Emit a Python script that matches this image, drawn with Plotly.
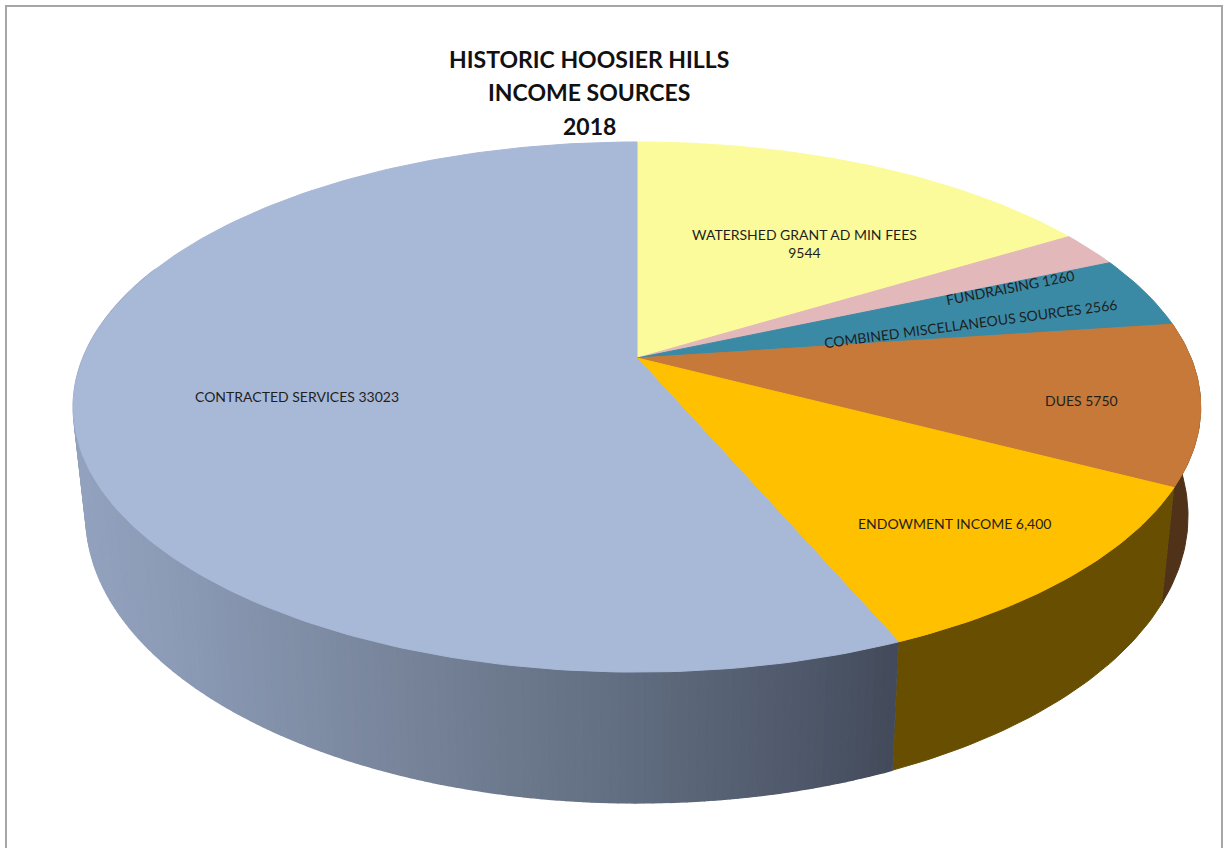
import numpy as np
import plotly.graph_objects as go

# ---- data, clockwise from 12 o'clock ----
categories = ["WATERSHED GRANT AD MIN FEES", "FUNDRAISING", "COMBINED MISCELLANEOUS SOURCES",
              "DUES", "ENDOWMENT INCOME", "CONTRACTED SERVICES"]
values = [9544, 1260, 2566, 5750, 6400, 33023]
labels = ["WATERSHED GRANT AD MIN FEES<br>9544", "FUNDRAISING 1260",
          "COMBINED MISCELLANEOUS SOURCES 2566", "DUES 5750",
          "ENDOWMENT INCOME 6,400", "CONTRACTED SERVICES 33023"]
top_colors = ["#FBFB9B", "#E3B8BB", "#3A8AA5", "#C67938", "#FFC000", "#A8B8D7"]
side_colors = ["#8a8a50", "#7a5f60", "#1f4a58", "#4F3218", "#674E00", None]
title_lines = ["HISTORIC HOOSIER HILLS", "INCOME SOURCES", "2018"]
title_y = [59, 92, 126]
label_x = [804, 1010, 970, 1081, 954, 297]
label_y = [243, 287, 323, 400, 523, 396]
label_angle = [0, -11, -7.5, 0, 0, 0]

# ---- projection of the tilted disc onto page pixels ----
CX, K = 637, 0.185
TOP = dict(r=554, h=256, y0=358)
BOT = dict(r=541.5, h=277, y0=463)


def project(theta, g):
    u, v = np.sin(theta), np.cos(theta)
    w = 1 + K * v
    return CX + g["r"] * u / w, g["y0"] - g["h"] * v / w


def lerp_color(x):
    xs = [90, 200, 400, 600, 800, 895]
    rs = [[0x93, 0xA2, 0xBE], [0x8A, 0x99, 0xB4], [0x78, 0x85, 0x9B],
          [0x64, 0x70, 0x83], [0x4F, 0x59, 0x6B], [0x43, 0x4A, 0x5A]]
    c = [int(np.interp(x, xs, [r[i] for r in rs])) for i in range(3)]
    return f"rgb({c[0]},{c[1]},{c[2]})"


total = sum(values)
edges = 2 * np.pi * np.cumsum([0] + values) / total
fig = go.Figure()


def poly(x, y, color, lw=1):
    fig.add_trace(go.Scatter(x=x, y=y, mode="lines", fill="toself", fillcolor=color,
                             line=dict(color=color, width=lw), hoverinfo="skip", showlegend=False))


# sides: every slice's rim between the top and bottom discs
for i, (a, b) in enumerate(zip(edges[:-1], edges[1:])):
    if side_colors[i] is not None:
        if b < np.pi / 2:
            continue
        t = np.linspace(max(a, np.pi / 3), b, 40)
        xt, yt = project(t, TOP)
        xb, yb = project(t, BOT)
        poly(np.r_[xt, xb[::-1]], np.r_[yt, yb[::-1]], side_colors[i])
    else:
        ts = np.linspace(a, min(b, 1.62 * np.pi), 181)
        for t0, t1 in zip(ts[:-1], ts[1:]):
            t = np.array([t0, t1])
            xt, yt = project(t, TOP)
            xb, yb = project(t, BOT)
            poly(np.r_[xt, xb[::-1]], np.r_[yt, yb[::-1]], lerp_color(xb.mean()), lw=1.5)

# top faces
for i, (a, b) in enumerate(zip(edges[:-1], edges[1:])):
    t = np.linspace(a, b, max(int((b - a) * 60), 8))
    xt, yt = project(t, TOP)
    poly(np.r_[CX, xt, CX], np.r_[TOP["y0"], yt, TOP["y0"]], top_colors[i])

annotations = [
    dict(x=x, y=y, text=s, textangle=ang, showarrow=False, xref="x", yref="y",
         xanchor="center", yanchor="middle", align="center",
         font=dict(family="Lato", size=14, color="#1f1f1f"))
    for s, x, y, ang in zip(labels, label_x, label_y, label_angle)
] + [
    dict(x=589, y=y, text=f"<b>{s}</b>", showarrow=False, xref="x", yref="y",
         xanchor="center", yanchor="middle",
         font=dict(family="Lato", size=23, color="#111111"))
    for s, y in zip(title_lines, title_y)
]

fig.update_layout(
    width=1225, height=848, margin=dict(l=0, r=0, t=0, b=0),
    paper_bgcolor="white", plot_bgcolor="white", showlegend=False,
    xaxis=dict(range=[0, 1225], visible=False, fixedrange=True),
    yaxis=dict(range=[848, 0], visible=False, fixedrange=True),
    annotations=annotations,
    shapes=[dict(type="rect", x0=6, y0=6, x1=1222, y1=870, xref="x", yref="y",
                 line=dict(color="#A6A6A6", width=2), layer="below")],
)
fig.write_html("out.html", config={"displayModeBar": False},
               post_script="document.body.style.margin='0';document.body.style.overflow='hidden';")
